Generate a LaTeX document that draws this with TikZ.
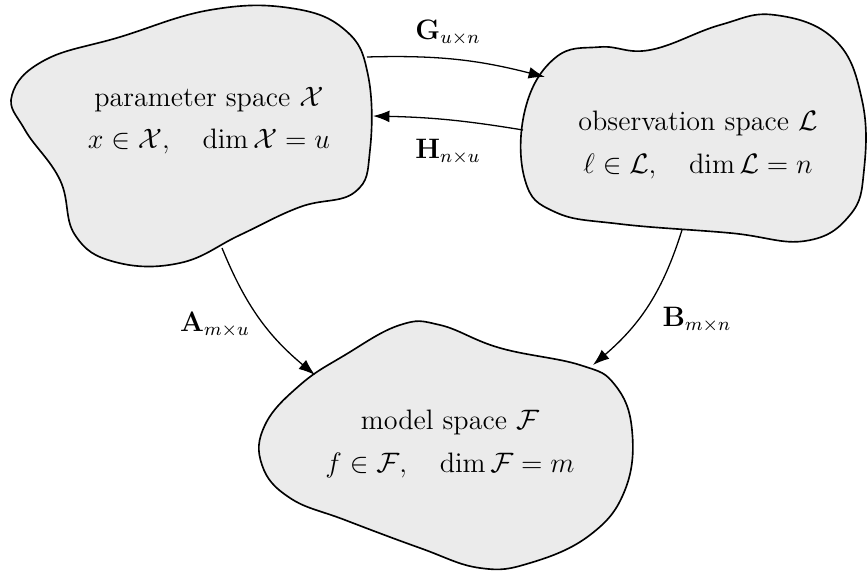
\documentclass[tikz,border=0pt]{standalone}
\usepackage{amsmath}
\usetikzlibrary{arrows.meta}
\tikzset{
  blob/.style={draw=black,line width=0.7pt,fill=black!8},
  spacetext/.style={align=center,font=\large},
  maplabel/.style={font=\large},
  maparrow/.style={line width=0.55pt,-{Latex[length=7pt,width=5pt]}}
}
\begin{document}
\begin{tikzpicture}[x=0.015cm,y=-0.015cm]
    \useasboundingbox (0,0) rectangle (867,574);
    % the three spaces
    \draw[blob] plot[smooth cycle,tension=0.7] coordinates {(12,95) (45,60) (120,37) (210,10) (290,8) (345,30) (368,75) (370,150) (355,192) (300,207) (240,235) (180,263) (115,262) (75,235) (60,180) (25,130)};
    \draw[blob] plot[smooth cycle,tension=0.7] coordinates {(525,110) (555,58) (600,47) (650,50) (720,25) (775,15) (835,40) (862,100) (864,170) (850,215) (805,241) (730,233) (620,224) (555,212) (525,180)};
    \draw[blob] plot[smooth cycle,tension=0.7] coordinates {(265,425) (300,385) (345,355) (400,325) (440,325) (500,348) (580,365) (615,385) (632,430) (625,490) (590,535) (530,563) (480,568) (420,548) (345,520) (290,498) (262,465)};
    \node[spacetext] (param) at (209,121) {parameter space $\mathcal{X}$\\[4pt] $x\in\mathcal{X},\quad \dim\mathcal{X}=u$};
    \node[spacetext] (obs) at (698,145) {observation space $\mathcal{L}$\\[4pt] $\ell\in\mathcal{L},\quad \dim\mathcal{L}=n$};
    \node[spacetext] (model) at (450,444) {model space $\mathcal{F}$\\[4pt] $f\in\mathcal{F},\quad \dim\mathcal{F}=m$};
    % ends of the maps on the outlines
    \coordinate (g0) at (367,57);  \coordinate (g1) at (545,77);
    \coordinate (h0) at (523,130); \coordinate (h1) at (373,116);
    \coordinate (a0) at (222,248); \coordinate (a1) at (315,375);
    \coordinate (b0) at (682,230); \coordinate (b1) at (593,365);
    \draw[maparrow] (g0) to[bend left=8] (g1);
    \draw[maparrow] (h0) to[bend right=4] (h1);
    \draw[maparrow] (a0) to[bend right=14] (a1);
    \draw[maparrow] (b0) to[bend left=16] (b1);
    \node[maplabel] (glab) at (448,33) {$\mathbf{G}_{u\times n}$};
    \node[maplabel] (hlab) at (448,152) {$\mathbf{H}_{n\times u}$};
    \node[maplabel] (alab) at (215,325) {$\mathbf{A}_{m\times u}$};
    \node[maplabel] (blab) at (697,320) {$\mathbf{B}_{m\times n}$};
\end{tikzpicture}
\end{document}
